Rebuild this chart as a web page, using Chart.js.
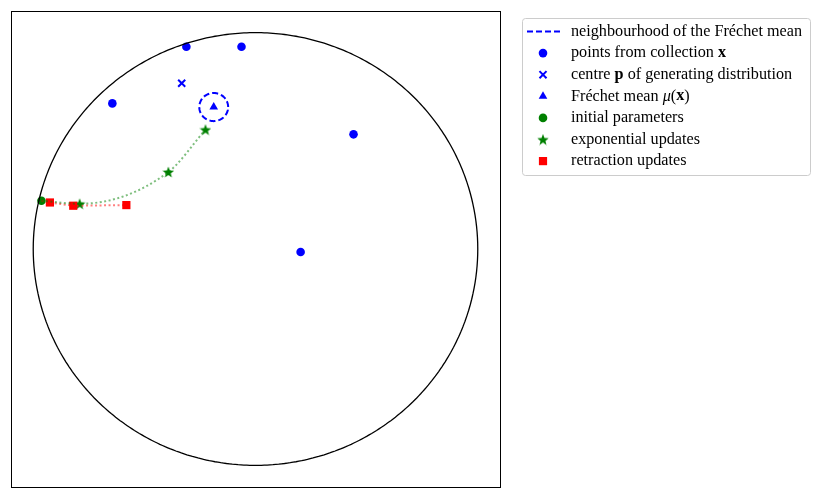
<!DOCTYPE html>
<html>
<head>
<meta charset="utf-8">
<script src="https://cdn.jsdelivr.net/npm/chart.js@4.4.1/dist/chart.umd.min.js"></script>
<style>
  html, body { margin: 0; padding: 0; background: #fff; }
  #wrap { width: 818px; height: 499px; }
</style>
</head>
<body>
<div id="wrap"><canvas id="chart" width="818" height="499"></canvas></div>
<script>
// Points on the Poincare disk
const pointsX = [-0.311, -0.063, -0.644, 0.441, 0.203];
const pointsY = [0.935, 0.935, 0.673, 0.530, -0.014];

const centreP = { x: -0.332, y: 0.766 };
const frechetMean = { x: -0.188, y: 0.656 };
const neighbourhoodRadius = 0.065;

const initParams = { x: -0.963, y: 0.223 };

const expX = [-0.791, -0.392, -0.225];
const expY = [0.209, 0.356, 0.552];

const retrX = [-0.925, -0.820, -0.581];
const retrY = [0.215, 0.200, 0.203];

// Circle outlines (unit disk boundary and the neighbourhood)
function circlePoints(cx, cy, r, n) {
    const pts = [];
    for (let i = 0; i <= n; i++) {
        const t = 2 * Math.PI * i / n;
        pts.push({ x: cx + r * Math.cos(t), y: cy + r * Math.sin(t) });
    }
    return pts;
}

function zip(xs, ys) {
    return xs.map((x, i) => ({ x: x, y: ys[i] }));
}

// Filled 5-point star used for the exponential updates
function makeStar(color, size) {
    const c = document.createElement('canvas');
    c.width = size; c.height = size;
    const g = c.getContext('2d');
    const cx = size / 2, cy = size / 2 + 0.6;
    const outer = size / 2, inner = outer * 0.42;
    g.beginPath();
    for (let i = 0; i < 10; i++) {
        const r = i % 2 === 0 ? outer : inner;
        const a = -Math.PI / 2 + i * Math.PI / 5;
        g.lineTo(cx + r * Math.cos(a), cy + r * Math.sin(a));
    }
    g.closePath();
    g.fillStyle = color;
    g.fill();
    return c;
}
const starImg = makeStar('#008000', 12);

const BLUE = '#0000ff';
const GREEN = '#008000';
const RED = '#ff0000';

const datasets = [
    {
        label: 'disk',
        data: circlePoints(0, 0, 1, 240),
        showLine: true, borderColor: '#000', borderWidth: 1.3,
        pointRadius: 0, tension: 0.001
    },
    {
        label: 'neighbourhood of the Fréchet mean',
        data: circlePoints(frechetMean.x, frechetMean.y, neighbourhoodRadius, 60),
        showLine: true, borderColor: BLUE, borderWidth: 2, borderDash: [6, 3],
        pointRadius: 0, tension: 0.001
    },
    {
        label: 'exp path',
        data: [initParams].concat(zip(expX, expY)),
        showLine: true, borderColor: 'rgba(0,128,0,0.5)', borderWidth: 2,
        borderDash: [2, 2.5], pointRadius: 0, cubicInterpolationMode: 'monotone'
    },
    {
        label: 'retr path',
        data: [initParams].concat(zip(retrX, retrY)),
        showLine: true, borderColor: 'rgba(255,0,0,0.5)', borderWidth: 2,
        borderDash: [2, 2.5], pointRadius: 0, tension: 0
    },
    {
        label: 'points from collection x',
        data: zip(pointsX, pointsY),
        pointStyle: 'circle', pointRadius: 4.3, backgroundColor: BLUE, borderColor: BLUE, borderWidth: 0
    },
    {
        label: 'centre p of generating distribution',
        data: [centreP],
        pointStyle: 'crossRot', pointRadius: 5, borderColor: BLUE, borderWidth: 2
    },
    {
        label: 'Fréchet mean',
        data: [frechetMean],
        pointStyle: 'triangle', pointRadius: 5, backgroundColor: BLUE, borderColor: BLUE, borderWidth: 0
    },
    {
        label: 'initial parameters',
        data: [initParams],
        pointStyle: 'circle', pointRadius: 4.3, backgroundColor: GREEN, borderColor: GREEN, borderWidth: 0
    },
    {
        label: 'retraction updates',
        data: zip(retrX, retrY),
        pointStyle: 'rect', pointRadius: 5.8, backgroundColor: RED, borderColor: RED, borderWidth: 0
    },
    {
        label: 'exponential updates',
        data: zip(expX, expY),
        pointStyle: starImg, pointRadius: 6
    }
];

// Legend rows: marker and text segments
const legendRows = [
    { line: true, color: BLUE, text: [['neighbourhood of the Fréchet mean', '']] },
    { style: 'circle', r: 4.3, color: BLUE, text: [['points from collection ', ''], ['x', 'bold']] },
    { style: 'crossRot', r: 5, color: BLUE, bw: 2, text: [['centre ', ''], ['p', 'bold'], [' of generating distribution', '']] },
    { style: 'triangle', r: 5, color: BLUE, text: [['Fréchet mean ', ''], ['μ', 'italic'], ['(', ''], ['x', 'bold'], [')', '']] },
    { style: 'circle', r: 4.3, color: GREEN, text: [['initial parameters', '']] },
    { style: starImg, r: 6, color: GREEN, text: [['exponential updates', '']] },
    { style: 'rect', r: 5.8, color: RED, text: [['retraction updates', '']] }
];

const frameAndLegend = {
    id: 'frameAndLegend',
    afterDraw(chart) {
        const ctx = chart.ctx;
        const a = chart.chartArea;
        ctx.save();
        // axes frame
        ctx.strokeStyle = '#000';
        ctx.lineWidth = 1;
        ctx.strokeRect(Math.round(a.left) + 0.5, Math.round(a.top) + 0.5,
            Math.round(a.right - a.left), Math.round(a.bottom - a.top));

        // legend box
        const bx = 522, by = 18, bw = 288, bh = 157;
        ctx.beginPath();
        ctx.roundRect(bx + 0.5, by + 0.5, bw, bh, 3);
        ctx.fillStyle = 'rgba(255,255,255,0.8)';
        ctx.fill();
        ctx.strokeStyle = '#cccccc';
        ctx.stroke();

        const markerX = 543;
        const textX = 571;
        legendRows.forEach((row, i) => {
            const y = 31.5 + i * 21.6;
            if (row.line) {
                ctx.beginPath();
                ctx.setLineDash([6, 3]);
                ctx.strokeStyle = row.color;
                ctx.lineWidth = 2;
                ctx.moveTo(527, y);
                ctx.lineTo(560, y);
                ctx.stroke();
                ctx.setLineDash([]);
            } else {
                ctx.fillStyle = row.color;
                ctx.strokeStyle = row.color;
                ctx.lineWidth = row.bw || 0;
                Chart.helpers.drawPoint(ctx, {
                    pointStyle: row.style, radius: row.r, rotation: 0, borderWidth: row.bw || 0
                }, markerX, y);
            }
            let x = textX;
            ctx.fillStyle = '#000';
            ctx.textBaseline = 'middle';
            row.text.forEach(seg => {
                ctx.font = (seg[1] ? seg[1] + ' ' : '') + '16.2px "Liberation Serif"';
                ctx.fillText(seg[0], x, y);
                x += ctx.measureText(seg[0]).width;
            });
        });
        ctx.restore();
    }
};

new Chart(document.getElementById('chart'), {
    type: 'scatter',
    data: { datasets: datasets },
    options: {
        responsive: false,
        animation: false,
        layout: { padding: { left: 11, top: 11, right: 318, bottom: 12 } },
        plugins: { legend: { display: false }, tooltip: { enabled: false } },
        scales: {
            x: { type: 'linear', min: -1.1, max: 1.1, display: false },
            y: { type: 'linear', min: -1.1, max: 1.1, display: false }
        }
    },
    plugins: [frameAndLegend]
});
</script>
</body>
</html>
